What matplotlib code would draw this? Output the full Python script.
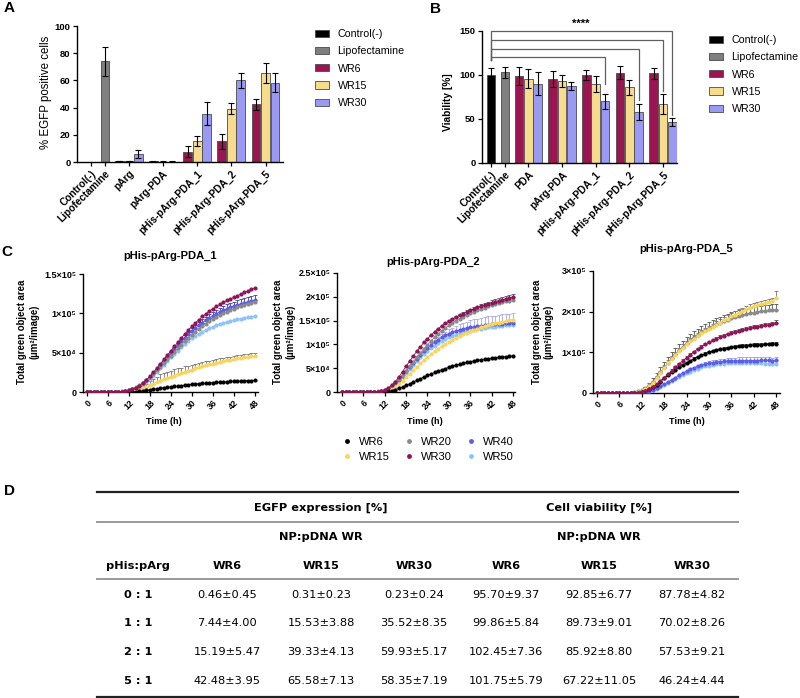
import matplotlib
matplotlib.use('Agg')
import matplotlib.pyplot as plt
import numpy as np
from matplotlib.patches import Patch
from matplotlib.lines import Line2D

plt.rcParams['font.family'] = ['Liberation Sans', 'DejaVu Sans']

# ---------------- Panel A: % EGFP positive cells ----------------
a_labels = ['Control(-)', 'Lipofectamine', 'pArg', 'pArg-PDA',
            'pHis-pArg-PDA_1', 'pHis-pArg-PDA_2', 'pHis-pArg-PDA_5']
a_ctrl = 0.0
a_ctrl_err = 0.0
a_lipo = 74.0
a_lipo_err = 10.5
a_wr6 = [0.8, 0.46, 7.44, 15.19, 42.48]
a_wr6_err = [0.2, 0.45, 4.00, 5.47, 3.95]
a_wr15 = [0.8, 0.31, 15.53, 39.33, 65.58]
a_wr15_err = [0.2, 0.23, 3.88, 4.13, 7.13]
a_wr30 = [6.0, 0.23, 35.52, 59.93, 58.35]
a_wr30_err = [2.8, 0.24, 8.35, 5.17, 7.19]

# ---------------- Panel B: Viability [%] ----------------
b_labels = ['Control(-)', 'Lipofectamine', 'PDA', 'pArg-PDA',
            'pHis-pArg-PDA_1', 'pHis-pArg-PDA_2', 'pHis-pArg-PDA_5']
b_ctrl = 100.0
b_ctrl_err = 8.0
b_lipo = 103.0
b_lipo_err = 6.5
b_wr6 = [99.0, 95.70, 99.86, 102.45, 101.75]
b_wr6_err = [10.0, 9.37, 5.84, 7.36, 5.79]
b_wr15 = [96.0, 92.85, 89.73, 85.92, 67.22]
b_wr15_err = [10.5, 6.77, 9.01, 8.80, 11.05]
b_wr30 = [90.0, 87.78, 70.02, 57.53, 46.24]
b_wr30_err = [13.0, 4.82, 8.26, 9.21, 4.44]

legend_names = ['Control(-)', 'Lipofectamine', 'WR6', 'WR15', 'WR30']

# ---------------- Panel C: time courses (x1000 um^2/image) ----------------
hours = list(range(0, 49))
c_titles = ['pHis-pArg-PDA_1', 'pHis-pArg-PDA_2', 'pHis-pArg-PDA_5']
c_names = ['WR6', 'WR15', 'WR20', 'WR30', 'WR40', 'WR50']

c1_wr6 = [0, 0, 0, 0, 0, 0, 0, 0, 0, 0, 0, 0, 0, 0, 0.3, 0.8, 1.4, 2.0, 2.6, 3.3,
          4.0, 4.6, 5.3, 5.9, 6.5, 7.1, 7.6, 8.2, 8.7, 9.2, 9.6, 10.1, 10.5, 10.9, 11.3,
          11.6, 12.0, 12.3, 12.6, 12.9, 13.1, 13.4, 13.6, 13.8, 14.0, 14.2, 14.4, 14.6, 14.8]
c1_wr15 = [0, 0, 0, 0, 0, 0, 0, 0, 0, 0, 0, 0, 0.5, 1.2, 2.2, 3.5, 5.0, 6.8, 8.7, 10.6,
           12.5, 14.3, 16.0, 17.6, 19.2, 20.8, 22.4, 24.0, 25.6, 27.1, 28.6, 30.0, 31.3, 32.6,
           33.8, 35.0, 36.1, 37.2, 38.2, 39.2, 40.1, 41.0, 41.8, 42.6, 43.3, 44.0, 44.6, 45.2, 45.7]
c1_wr20 = [0, 0, 0, 0, 0, 0, 0, 0, 0, 0.3, 0.8, 1.6, 2.8, 4.4, 6.4, 8.8, 11.8, 15.2, 19.0,
           23.2, 27.6, 32.2, 36.8, 41.4, 46.0, 50.8, 55.4, 60.0, 64.5, 68.8, 73.0, 76.8, 80.4,
           83.8, 87.0, 90.0, 92.8, 95.4, 97.8, 100.1, 102.2, 104.2, 106.0, 107.7, 109.3, 110.8,
           112.2, 113.5, 114.8]
c1_wr30 = [0, 0, 0, 0, 0, 0, 0, 0, 0, 0, 0.3, 1.0, 2.0, 3.5, 5.5, 8.0, 11.5, 15.5, 20.0, 25.0,
           30.5, 36.0, 41.5, 47.0, 52.5, 58.0, 63.5, 69.0, 74.0, 79.0, 83.5, 88.0, 92.0, 96.0,
           99.5, 103.0, 106.0, 109.0, 111.5, 114.0, 116.5, 118.5, 120.5, 122.5, 124.5, 126.5,
           128.5, 130.5, 132.5]
c1_wr40 = [0, 0, 0, 0, 0, 0, 0, 0, 0, 0, 0.3, 1.0, 2.0, 3.4, 5.3, 7.7, 11.0, 14.8, 19.0, 23.7,
           28.8, 34.0, 39.2, 44.4, 49.5, 54.5, 59.5, 64.3, 69.0, 73.3, 77.5, 81.3, 85.0, 88.3,
           91.5, 94.3, 97.0, 99.5, 101.8, 103.9, 105.8, 107.6, 109.2, 110.7, 112.1, 113.4,
           114.6, 115.7, 116.7]
c1_wr50 = [0, 0, 0, 0, 0, 0, 0, 0, 0, 0, 0.3, 0.9, 1.8, 3.1, 4.8, 7.0, 9.8, 13.0, 16.6, 20.5,
           25.5, 30.0, 34.6, 39.3, 44.0, 48.3, 52.6, 57.0, 61.0, 64.8, 68.2, 71.3, 74.1, 76.7,
           79.0, 81.1, 83.0, 84.7, 86.3, 87.7, 89.0, 90.2, 91.3, 92.3, 93.2, 94.1, 94.9, 95.7, 96.4]
c1_wr15_sd = [0, 0, 0, 0, 0, 0, 0, 0, 0, 0, 0, 0, 0, 0, 1, 2, 3, 4, 5, 6, 7, 8, 8, 8, 8, 8,
              7.5, 7, 7, 6.5, 6, 6, 5.5, 5.5, 5, 5, 5, 4.5, 4.5, 4.5, 4.5, 4, 4, 4, 4, 4, 4, 4, 4]
c1_wr40_sd = [0, 0, 0, 0, 0, 0, 0, 0, 0, 0, 0, 0, 0, 0, 0, 0, 0, 0, 0, 0, 1.0, 1.2, 1.5, 1.8,
              2.0, 2.2, 2.5, 2.8, 3.0, 3.2, 3.5, 3.7, 4.0, 4.2, 4.4, 4.6, 4.8, 5.0, 5.2, 5.4,
              5.5, 5.6, 5.8, 5.9, 6.0, 6.1, 6.2, 6.3, 6.4]

c2_wr6 = [0, 0, 0, 0, 0, 0, 0, 0, 0, 0, 0, 0, 0.5, 1.5, 3.0, 5.0, 7.5, 10.5, 13.8, 17.3,
          20.9, 24.5, 28.0, 31.4, 34.7, 37.9, 41.0, 43.9, 46.7, 49.3, 51.8, 54.1, 56.3, 58.3,
          60.2, 62.0, 63.6, 65.1, 66.5, 67.8, 69.0, 70.1, 71.1, 72.0, 72.9, 73.7, 74.4, 75.1, 75.7]
c2_wr15 = [0, 0, 0, 0, 0, 0, 0, 0, 0, 0, 0, 0.5, 1.5, 3.5, 7.0, 11.5, 17.0, 23.5, 30.5, 38.0,
           45.5, 53.0, 60.0, 67.0, 73.5, 79.5, 85.5, 91.0, 96.0, 101.0, 105.5, 109.8, 113.8,
           117.6, 121.2, 124.5, 127.6, 130.5, 133.2, 135.7, 138.0, 140.2, 142.2, 144.1, 145.9,
           147.6, 149.2, 150.7, 152.1]
c2_wr20 = [0, 0, 0, 0, 0, 0, 0, 0, 0, 0.5, 1.3, 2.8, 5.2, 8.8, 13.8, 20.0, 27.5, 36.0, 45.0,
           54.5, 64.0, 73.5, 82.5, 91.0, 99.5, 107.5, 115.0, 122.0, 128.5, 134.5, 140.0, 145.0,
           149.7, 154.0, 158.0, 161.8, 165.3, 168.6, 171.7, 174.6, 177.3, 179.8, 182.2, 184.4,
           186.5, 188.5, 190.4, 192.2, 193.9]
c2_wr30 = [0, 0, 0, 0, 0, 0, 0, 0, 0, 0, 0.5, 1.5, 4.0, 8.0, 14.0, 22.0, 32.0, 43.0, 54.0,
           65.0, 75.5, 85.5, 95.0, 104.0, 112.0, 119.5, 126.5, 133.0, 138.8, 144.0, 148.8,
           153.2, 157.3, 161.2, 164.9, 168.4, 171.7, 174.8, 177.7, 180.4, 183.0, 185.4, 187.7,
           189.9, 192.0, 194.0, 195.9, 197.7, 199.4]
c2_wr40 = [0, 0, 0, 0, 0, 0, 0, 0, 0, 0, 0.5, 1.5, 3.5, 7.0, 12.0, 18.5, 26.0, 34.5, 43.5,
           52.5, 61.5, 70.0, 78.0, 85.5, 92.5, 99.0, 105.0, 110.0, 114.6, 118.8, 122.5, 125.5,
           128.0, 130.2, 132.2, 134.0, 135.6, 137.0, 138.2, 139.3, 140.3, 141.2, 142.0, 142.7,
           143.3, 143.9, 144.4, 144.9, 145.4]
c2_wr50 = [0, 0, 0, 0, 0, 0, 0, 0, 0, 0, 0.4, 1.2, 3.0, 6.0, 10.5, 16.5, 23.5, 31.5, 40.0,
           48.5, 57.0, 65.0, 72.5, 79.5, 86.0, 92.0, 97.5, 102.5, 107.0, 111.0, 114.6, 117.8,
           120.6, 123.1, 125.3, 127.3, 129.1, 130.7, 132.1, 133.4, 134.6, 135.7, 136.7, 137.6,
           138.4, 139.2, 139.9, 140.6, 141.2]
c2_wr30_sd = [0, 0, 0, 0, 0, 0, 0, 0, 0, 0, 0, 0, 0, 0, 0, 0, 0, 0, 0, 0, 0, 0, 0, 0, 0, 0,
              0, 0, 0, 0, 2, 2, 2.5, 2.5, 3, 3, 3.5, 3.5, 4, 4, 4.5, 4.5, 5, 5, 5.5, 5.5, 6, 6, 6.5]
c2_wr40_sd = [0, 0, 0, 0, 0, 0, 0, 0, 0, 0, 0, 0, 0, 0, 0, 0, 0, 0, 0, 0, 0, 0, 0, 0, 3, 4,
              5, 6, 7, 8, 9, 10, 11, 12, 13, 14, 15, 15.5, 16, 16.5, 17, 17.5, 18, 18, 18.5,
              19, 19, 19.5, 20]

c3_wr6 = [0, 0, 0, 0, 0, 0, 0, 0, 0, 0, 0.5, 1.2, 2.5, 5.0, 9.0, 14.0, 20.5, 28.0, 36.0,
          43.5, 50.5, 57.0, 63.0, 68.8, 74.2, 79.5, 84.5, 89.0, 93.0, 96.6, 99.8, 102.6, 105.0,
          107.1, 109.0, 110.7, 112.2, 113.5, 114.7, 115.7, 116.6, 117.4, 118.1, 118.7, 119.2,
          119.7, 120.1, 120.5, 121.5]
c3_wr15 = [0, 0, 0, 0, 0, 0, 0, 0, 0, 0.5, 1.2, 2.5, 5.0, 9.5, 16.0, 24.5, 36.0, 49.0, 62.0,
           73.0, 83.5, 93.5, 103.0, 111.5, 119.5, 127.0, 134.0, 140.5, 146.5, 152.0, 157.0,
           162.5, 168.0, 173.3, 178.3, 183.0, 188.5, 193.0, 197.6, 202.0, 206.0, 210.0, 213.5,
           216.5, 219.3, 221.8, 224.0, 226.0, 233.0]
c3_wr20 = [0, 0, 0, 0, 0, 0, 0, 0, 0, 1.0, 2.0, 4.0, 7.0, 12.0, 19.0, 28.0, 39.0, 51.0, 63.0,
           75.0, 86.0, 96.0, 105.5, 114.0, 122.0, 129.5, 136.5, 143.0, 149.0, 154.5, 159.5,
           164.0, 168.5, 173.0, 176.8, 180.3, 183.5, 186.4, 189.1, 191.6, 193.9, 196.0, 197.9,
           199.6, 201.1, 202.4, 203.5, 204.4, 205.2]
c3_wr30 = [0, 0, 0, 0, 0, 0, 0, 0, 0, 0, 0.5, 1.2, 2.5, 5.0, 9.0, 14.5, 21.5, 29.5, 38.0,
           46.5, 55.0, 63.5, 71.5, 79.5, 87.0, 94.5, 101.5, 108.0, 114.0, 119.5, 124.5, 129.2,
           133.5, 137.5, 141.2, 144.6, 147.6, 150.4, 153.0, 155.4, 157.6, 159.6, 161.5, 163.2,
           164.8, 166.3, 167.7, 169.0, 172.0]
c3_wr40 = [0, 0, 0, 0, 0, 0, 0, 0, 0, 0, 0, 0.5, 1.5, 3.0, 5.0, 8.0, 12.0, 16.5, 21.5, 27.0,
           32.5, 38.0, 43.5, 48.5, 53.5, 58.0, 62.0, 65.5, 68.5, 71.0, 73.0, 74.7, 76.0, 77.0,
           77.8, 78.4, 78.8, 79.1, 79.3, 79.5, 79.6, 79.7, 79.8, 79.9, 80.0, 80.0, 80.1, 77.5, 81.0]
c3_wr50 = [0, 0, 0, 0, 0, 0, 0, 0, 0, 0, 0, 0.4, 1.2, 2.5, 4.5, 7.0, 10.5, 14.5, 19.0, 24.0,
           29.0, 34.0, 39.0, 44.0, 48.5, 52.5, 56.5, 60.0, 63.0, 65.5, 67.5, 69.2, 70.6, 71.7,
           72.5, 73.1, 73.5, 73.7, 73.8, 73.8, 73.7, 73.5, 73.3, 73.0, 72.7, 72.4, 72.1, 71.8, 71.5]
c3_wr6_sd = [0, 0, 0, 0, 0, 0, 0, 0, 0, 0, 0, 0, 0, 0, 0, 0, 0, 0, 0, 0, 2, 2, 2, 2.5, 2.5,
             2.5, 3, 3, 3, 3, 3, 3.5, 3.5, 3.5, 3.5, 3.5, 4, 4, 4, 4, 4, 4, 4, 4, 4, 4, 4, 4, 4]
c3_wr15_sd = [0, 0, 0, 0, 0, 0, 0, 0, 0, 0, 0, 0, 0, 0, 0, 4, 5, 6, 7, 8, 8, 8, 8, 8, 8, 8,
              8, 8, 8, 8, 8, 8, 8, 8, 8, 8, 8, 8, 8, 8, 8, 8, 8, 8, 8, 8, 8, 8, 19]
c3_wr20_sd = [0, 0, 0, 0, 0, 0, 0, 0, 0, 0, 0, 0, 0, 3, 5, 8, 10, 12, 13, 14, 14, 15, 15, 15,
              15, 15, 15, 15, 15, 15, 15, 15, 15, 15, 15, 15, 15, 15, 15, 15, 15, 14, 14, 14,
              14, 14, 14, 14, 14]
c3_wr30_sd = [0, 0, 0, 0, 0, 0, 0, 0, 0, 0, 0, 0, 0, 0, 0, 0, 0, 0, 0, 0, 3, 3, 3, 3, 3, 3,
              3, 3, 3, 3, 4, 4, 4, 4, 4, 4, 4, 4, 4, 4, 5, 5, 5, 5, 5, 5, 5, 5, 8]
c3_wr40_sd = [0, 0, 0, 0, 0, 0, 0, 0, 0, 0, 0, 0, 0, 0, 0, 0, 0, 0, 0, 0, 0, 0, 0, 0, 0, 3,
              3, 4, 4, 5, 5, 6, 6, 7, 7, 7, 8, 8, 8, 8, 8, 8, 8, 8, 8, 8, 8, 8, 8]

# ---------------- Panel D: table ----------------
tbl_ratios = ['0 : 1', '1 : 1', '2 : 1', '5 : 1']
tbl_cols = ['WR6', 'WR15', 'WR30', 'WR6', 'WR15', 'WR30']
egfp_wr6 = ['0.46±0.45', '7.44±4.00', '15.19±5.47', '42.48±3.95']
egfp_wr15 = ['0.31±0.23', '15.53±3.88', '39.33±4.13', '65.58±7.13']
egfp_wr30 = ['0.23±0.24', '35.52±8.35', '59.93±5.17', '58.35±7.19']
via_wr6 = ['95.70±9.37', '99.86±5.84', '102.45±7.36', '101.75±5.79']
via_wr15 = ['92.85±6.77', '89.73±9.01', '85.92±8.80', '67.22±11.05']
via_wr30 = ['87.78±4.82', '70.02±8.26', '57.53±9.21', '46.24±4.44']

# ======================================================================
W, H = 800, 698
fig = plt.figure(figsize=(W / 100, H / 100), dpi=100)


def px_axes(l, t, r, b):
    return fig.add_axes([l / W, 1 - b / H, (r - l) / W, (b - t) / H])


def fx(x):
    return x / W


def fy(y):
    return 1 - y / H


bar_colors = ['#000000', '#7f7f7f', '#9b1552', '#f6dc8c', '#9a9af4']
edge = '#4a4a4a'
ctrl_x, lipo_x = 0.0, 1.5
group_x = np.array([4.0, 7.6, 11.2, 14.8, 18.4])
bw = 0.93
ek = dict(ecolor='black', elinewidth=0.8, capsize=2.2, capthick=0.8)


def style_axis(ax):
    for s in ['top', 'right']:
        ax.spines[s].set_visible(False)
    for s in ['left', 'bottom']:
        ax.spines[s].set_linewidth(1.0)
    ax.tick_params(width=0.9, length=3.2, pad=1.5)


def bar_panel(ax, ctrl, ctrl_e, lipo, lipo_e, w6, w6e, w15, w15e, w30, w30e, labels):
    ax.bar(ctrl_x, ctrl, bw, color=bar_colors[0], edgecolor=edge, lw=0.6,
           yerr=ctrl_e if ctrl_e > 0 else None, error_kw=ek)
    ax.bar(lipo_x, lipo, bw, color=bar_colors[1], edgecolor=edge, lw=0.6,
           yerr=lipo_e, error_kw=ek)
    ax.bar(group_x - 1, w6, bw, color=bar_colors[2], edgecolor=edge, lw=0.6, yerr=w6e, error_kw=ek)
    ax.bar(group_x, w15, bw, color=bar_colors[3], edgecolor=edge, lw=0.6, yerr=w15e, error_kw=ek)
    ax.bar(group_x + 1, w30, bw, color=bar_colors[4], edgecolor=edge, lw=0.6, yerr=w30e, error_kw=ek)
    style_axis(ax)
    ax.set_xticks([ctrl_x, lipo_x] + list(group_x))
    ax.set_xticklabels(labels, rotation=45, ha='right', rotation_mode='anchor',
                       fontsize=7.3, fontweight='bold')


def bar_legend(ax, x, y):
    handles = [Patch(facecolor=c, edgecolor=edge, lw=0.6, label=n)
               for c, n in zip(bar_colors, legend_names)]
    ax.legend(handles=handles, loc='upper left', bbox_to_anchor=(fx(x), fy(y)),
              bbox_transform=fig.transFigure, frameon=False, fontsize=7.7,
              handlelength=1.35, handleheight=0.65, handletextpad=0.75,
              labelspacing=0.68, borderpad=0, borderaxespad=0)


# ---- A
axA = px_axes(77, 26, 283, 162)
bar_panel(axA, a_ctrl, a_ctrl_err, a_lipo, a_lipo_err, a_wr6, a_wr6_err,
          a_wr15, a_wr15_err, a_wr30, a_wr30_err, a_labels)
axA.set_xlim(-1.44, 20.24)
axA.set_ylim(0, 100)
axA.set_yticks([0, 20, 40, 60, 80, 100])
for t in axA.get_yticklabels():
    t.set_fontweight('bold')
    t.set_fontsize(6.8)
fig.text(fx(46), fy(92), '% EGFP positive cells', rotation=90, ha='center', va='center', fontsize=8.3)
bar_legend(axA, 315, 29)
fig.text(fx(4), fy(8), 'A', fontsize=11, fontweight='bold', va='center', ha='left')

# ---- B
axB = px_axes(482, 31, 677, 163)
bar_panel(axB, b_ctrl, b_ctrl_err, b_lipo, b_lipo_err, b_wr6, b_wr6_err,
          b_wr15, b_wr15_err, b_wr30, b_wr30_err, b_labels)
axB.set_xlim(-0.96, 19.9)
axB.set_ylim(0, 150)
axB.set_yticks([0, 50, 100, 150])
for t in axB.get_yticklabels():
    t.set_fontweight('bold')
    t.set_fontsize(6.8)
fig.text(fx(448), fy(102), 'Viability [%]', rotation=90, ha='center', va='center',
         fontsize=7.3, fontweight='bold')
bar_legend(axB, 709, 35)
fig.text(fx(430), fy(9), 'B', fontsize=11, fontweight='bold', va='center', ha='left')

# significance brackets
br_levels = [121, 130, 140, 150]
br_targets = [group_x[2] + 1, group_x[3] + 1, group_x[4], group_x[4] + 1]
br_bottoms = [90, 72, 82, 54]
for lv, tx, bt in zip(br_levels, br_targets, br_bottoms):
    axB.plot([ctrl_x, ctrl_x, tx, tx], [117, lv, lv, bt], color='#606060', lw=0.9,
             clip_on=False, solid_joinstyle='miter')
axB.text(9.6, 158.5, '****', ha='center', va='center', fontsize=8, fontweight='bold',
         clip_on=False)

# ---- C
c_colors = {'WR6': '#000000', 'WR15': '#f8d55c', 'WR20': '#8a8a8a',
            'WR30': '#8c1659', 'WR40': '#5d5de4', 'WR50': '#8fc2f5'}
draw_order = ['WR50', 'WR40', 'WR20', 'WR15', 'WR6', 'WR30']

c_series = [
    {'WR6': c1_wr6, 'WR15': c1_wr15, 'WR20': c1_wr20, 'WR30': c1_wr30, 'WR40': c1_wr40, 'WR50': c1_wr50},
    {'WR6': c2_wr6, 'WR15': c2_wr15, 'WR20': c2_wr20, 'WR30': c2_wr30, 'WR40': c2_wr40, 'WR50': c2_wr50},
    {'WR6': c3_wr6, 'WR15': c3_wr15, 'WR20': c3_wr20, 'WR30': c3_wr30, 'WR40': c3_wr40, 'WR50': c3_wr50},
]
c_errs = [
    {'WR15': (c1_wr15_sd, '#777777'), 'WR40': (c1_wr40_sd, '#3a3aa0')},
    {'WR30': (c2_wr30_sd, '#555555'), 'WR40': (c2_wr40_sd, '#a8a8ee')},
    {'WR6': (c3_wr6_sd, '#333333'), 'WR15': (c3_wr15_sd, '#777777'), 'WR20': (c3_wr20_sd, '#555555'),
     'WR30': (c3_wr30_sd, '#555555'), 'WR40': (c3_wr40_sd, '#9a9af0')},
]

c_boxes = [(83, 274, 258, 392), (337, 273, 515, 392), (593, 271, 780, 393)]
c_xlims = [(-1.14, 48.86), (-1.4, 48.56), (-1.07, 49.07)]
c_ymax = [150, 250, 300]
c_yticks = [[0, 50, 100, 150], [0, 50, 100, 150, 200, 250], [0, 100, 200, 300]]
c_yticklabels = [['0', '5×10⁴', '1×10⁵', '1.5×10⁵'],
                 ['0', '5×10⁴', '1×10⁵', '1.5×10⁵', '2×10⁵', '2.5×10⁵'],
                 ['0', '1×10⁵', '2×10⁵', '3×10⁵']]
c_title_pos = [(170, 256), (433, 262), (686, 249)]
c_ylab_x = [28.5, 284, 542.5]
c_xlab_x = [164, 425, 687]

axes_c = []
for i in range(3):
    ax = px_axes(*c_boxes[i])
    axes_c.append(ax)
    zeros = np.zeros(len(hours))
    for name in draw_order:
        y = np.array(c_series[i][name])
        if name in c_errs[i]:
            sd, ecol = c_errs[i][name]
            ax.errorbar(hours, y, yerr=[zeros, np.array(sd)], fmt='none', ecolor=ecol,
                        elinewidth=0.6, capsize=1.4, capthick=0.6, zorder=2)
        ax.plot(hours, y, '-', color=c_colors[name], lw=0.6, zorder=3)
        ax.plot(hours, y, 'o', color=c_colors[name], ms=3.0, mew=0, zorder=3)
    style_axis(ax)
    ax.set_xlim(*c_xlims[i])
    ax.set_ylim(0, c_ymax[i])
    ax.set_xticks(list(range(0, 49, 6)))
    ax.set_xticklabels([str(h) for h in range(0, 49, 6)], rotation=45, ha='right',
                       rotation_mode='anchor', fontsize=6.3, fontweight='bold')
    ax.set_yticks(c_yticks[i])
    ax.set_yticklabels(c_yticklabels[i], fontsize=6.5, fontweight='bold')
    fig.text(fx(c_title_pos[i][0]), fy(c_title_pos[i][1]), c_titles[i], ha='center',
             va='center', fontsize=8, fontweight='bold')
    fig.text(fx(c_ylab_x[i]), fy(332), 'Total green object area\n(µm²/image)', rotation=90,
             ha='center', va='center', multialignment='center', fontsize=6.9,
             fontweight='bold', linespacing=1.25)
    fig.text(fx(c_xlab_x[i]), fy(422), 'Time (h)', ha='center', va='center',
             fontsize=6.6, fontweight='bold')
fig.text(fx(1), fy(252), 'C', fontsize=11, fontweight='bold', va='center', ha='left')

c_handles = [Line2D([], [], ls='none', marker='o', ms=3.5, mew=0, color=c_colors[n], label=n)
             for n in c_names]
axes_c[1].legend(handles=c_handles, ncol=3, loc='upper left', bbox_to_anchor=(fx(342), fy(437)),
                 bbox_transform=fig.transFigure, frameon=False, fontsize=8,
                 handlelength=0.9, handletextpad=0.6, columnspacing=1.3,
                 labelspacing=0.45, borderpad=0, borderaxespad=0)

# ---- D (table)
fig.text(fx(4), fy(491), 'D', fontsize=11, fontweight='bold', va='center', ha='left')
tfont = ['DejaVu Sans']
tx0, tx1 = 97, 738
col_x = [138, 227, 321, 414, 506, 599, 692]
row_y = [595, 623.5, 652, 681]


def hline(y, color, lw):
    fig.add_artist(Line2D([fx(tx0), fx(tx1)], [fy(y), fy(y)], transform=fig.transFigure,
                          color=color, lw=lw))


hline(492, '#222222', 1.6)
hline(521.5, '#9a9a9a', 1.4)
hline(579.3, '#9a9a9a', 1.4)
hline(697, '#222222', 1.6)

fig.text(fx(321), fy(508), 'EGFP expression [%]', ha='center', va='center', fontsize=8.2,
         fontweight='bold', family=tfont)
fig.text(fx(599), fy(508), 'Cell viability [%]', ha='center', va='center', fontsize=8.2,
         fontweight='bold', family=tfont)
fig.text(fx(321), fy(537), 'NP:pDNA WR', ha='center', va='center', fontsize=8.2,
         fontweight='bold', family=tfont)
fig.text(fx(599), fy(537), 'NP:pDNA WR', ha='center', va='center', fontsize=8.2,
         fontweight='bold', family=tfont)
fig.text(fx(col_x[0]), fy(566), 'pHis:pArg', ha='center', va='center', fontsize=8.2,
         fontweight='bold', family=tfont)
for cx, name in zip(col_x[1:], tbl_cols):
    fig.text(fx(cx), fy(566), name, ha='center', va='center', fontsize=8.2,
             fontweight='bold', family=tfont)
table_cols = [egfp_wr6, egfp_wr15, egfp_wr30, via_wr6, via_wr15, via_wr30]
for r, ry in enumerate(row_y):
    fig.text(fx(col_x[0]), fy(ry), tbl_ratios[r], ha='center', va='center', fontsize=8.2,
             fontweight='bold', family=tfont)
    for cx, col in zip(col_x[1:], table_cols):
        fig.text(fx(cx), fy(ry), col[r], ha='center', va='center', fontsize=8.2, family=tfont)

fig.savefig('out.png', dpi=100)
